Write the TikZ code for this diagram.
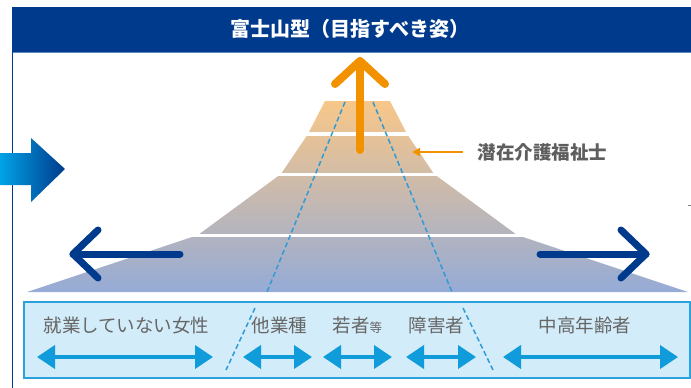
\documentclass[tikz,border=0pt]{standalone}
\usepackage{fontspec}
\newfontfamily\cjk{Noto Sans CJK JP}
\usetikzlibrary{arrows.meta}
\definecolor{navy}{HTML}{003A8C}
\definecolor{headline}{HTML}{5F86BF}
\definecolor{arrcyan}{HTML}{00A3E6}
\definecolor{peach}{HTML}{F8C789}
\definecolor{bluegray}{HTML}{95ABD6}
\definecolor{dashcol}{HTML}{2E9BD6}
\definecolor{orng}{HTML}{F39200}
\definecolor{labgray}{HTML}{5E5E5E}
\definecolor{txtgray}{HTML}{666666}
\definecolor{boxfill}{HTML}{D2ECF9}
\definecolor{boxline}{HTML}{2AA3DD}
\definecolor{dblarrow}{HTML}{109BDB}
\tikzset{
  gapline/.style={white, line width=3.6},
  dashline/.style={dashcol, line width=1.5, dash pattern=on 5pt off 3pt},
  chevron/.style={navy, line width=7, line cap=round, line join=round},
  uparrow/.style={orng, line width=8, line cap=round, line join=round},
  lbl/.style={font=\cjk\fontsize{18.5}{20}\selectfont, text=txtgray, inner sep=0, anchor=base},
  dbl/.style={dblarrow, line width=4, {Triangle[length=18pt,width=23pt]}-{Triangle[length=18pt,width=23pt]}}
}
\begin{document}
\begin{tikzpicture}[x=1pt,y=-1pt]
\useasboundingbox (0,0) rectangle (691,388);
\fill[white] (0,0) rectangle (691,388);
% header
\fill[navy] (12,7) rectangle (691,52);
\draw[headline, line width=1.5] (12,52.5) -- (691,52.5);
\draw[navy, line width=1.3] (12.6,7) -- (12.6,388);
\node[font=\cjk\bfseries\fontsize{20}{22}\selectfont, text=white, inner sep=0, anchor=base] (title) at (350,36.5) {富士山型（目指すべき姿）};
% big gradient arrow at left
\shade[left color=arrcyan, right color=navy] (0,153) -- (31,153) -- (31,138) -- (65,169) -- (31,202) -- (31,185) -- (0,185) -- cycle;
% mountain
\shade[top color=peach, bottom color=bluegray] (325,101) -- (308,134) -- (281,174) -- (198,235) -- (27,292) -- (688,292) -- (517,235) -- (434,174) -- (407,134) -- (390,101) -- cycle;
\draw[gapline] (190,134) -- (530,134);
\draw[gapline] (190,174.5) -- (530,174.5);
\draw[gapline] (150,235.5) -- (570,235.5);
% dashed lines in mountain
\draw[dashline] (345,102) -- (267,292);
\draw[dashline] (373,102) -- (452,292);
% orange up arrow
\coordinate (upbase) at (360,150);
\coordinate (uptip) at (360,61);
\draw[uparrow] (upbase) -- (uptip);
\draw[uparrow] (335,84) -- (uptip) -- (385,84);
% label with small arrow
\node[font=\cjk\bfseries\fontsize{18.5}{20}\selectfont, text=labgray, inner sep=0, anchor=base] (sen) at (542.5,159) {潜在介護福祉士};
\coordinate (senarr) at (412,152);
\draw[orng, line width=2, -{Triangle[length=8pt,width=8pt]}] ([xshift=-15pt]sen.west |- senarr) -- (senarr);
% navy arrows
\coordinate (ltip) at (73,254);
\coordinate (rtip) at (646,254);
\draw[chevron] (180,254) -- (ltip);
\draw[chevron] (98,230) -- (ltip) -- (98,278);
\draw[chevron] (540,254) -- (rtip);
\draw[chevron] (621,230) -- (rtip) -- (621,278);
% tiny mark at right
\draw[gray, line width=0.8] (687.5,205) -- (691,205);
% bottom box
\node[draw=boxline, fill=boxfill, line width=1.5, minimum width=666pt, minimum height=76pt, inner sep=0, anchor=north west] (box) at (23,301) {};
\draw[dashline] (255,308) -- (226,370);
\draw[dashline] (463,308) -- (493,370);
\node[lbl] (l1) at (126.5,332) {就業していない女性};
\node[lbl] (l2) at (279.5,332) {他業種};
\node[lbl, anchor=base west] (l3) at (332.5,332) {若者{\fontsize{12.5}{13}\selectfont 等}};
\node[lbl] (l4) at (436.5,332) {障害者};
\node[lbl] (l5) at (585,332) {中高年齢者};
\coordinate (a1l) at (37,357); \coordinate (a1r) at (213,357);
\coordinate (a2l) at (243,357); \coordinate (a2r) at (312,357);
\coordinate (a3l) at (323,357); \coordinate (a3r) at (392,357);
\coordinate (a4l) at (406,357); \coordinate (a4r) at (476,357);
\coordinate (a5l) at (503,357); \coordinate (a5r) at (678,357);
\draw[dbl] (a1l) -- (a1r);
\draw[dbl] (a2l) -- (a2r);
\draw[dbl] (a3l) -- (a3r);
\draw[dbl] (a4l) -- (a4r);
\draw[dbl] (a5l) -- (a5r);
\end{tikzpicture}
\end{document}
